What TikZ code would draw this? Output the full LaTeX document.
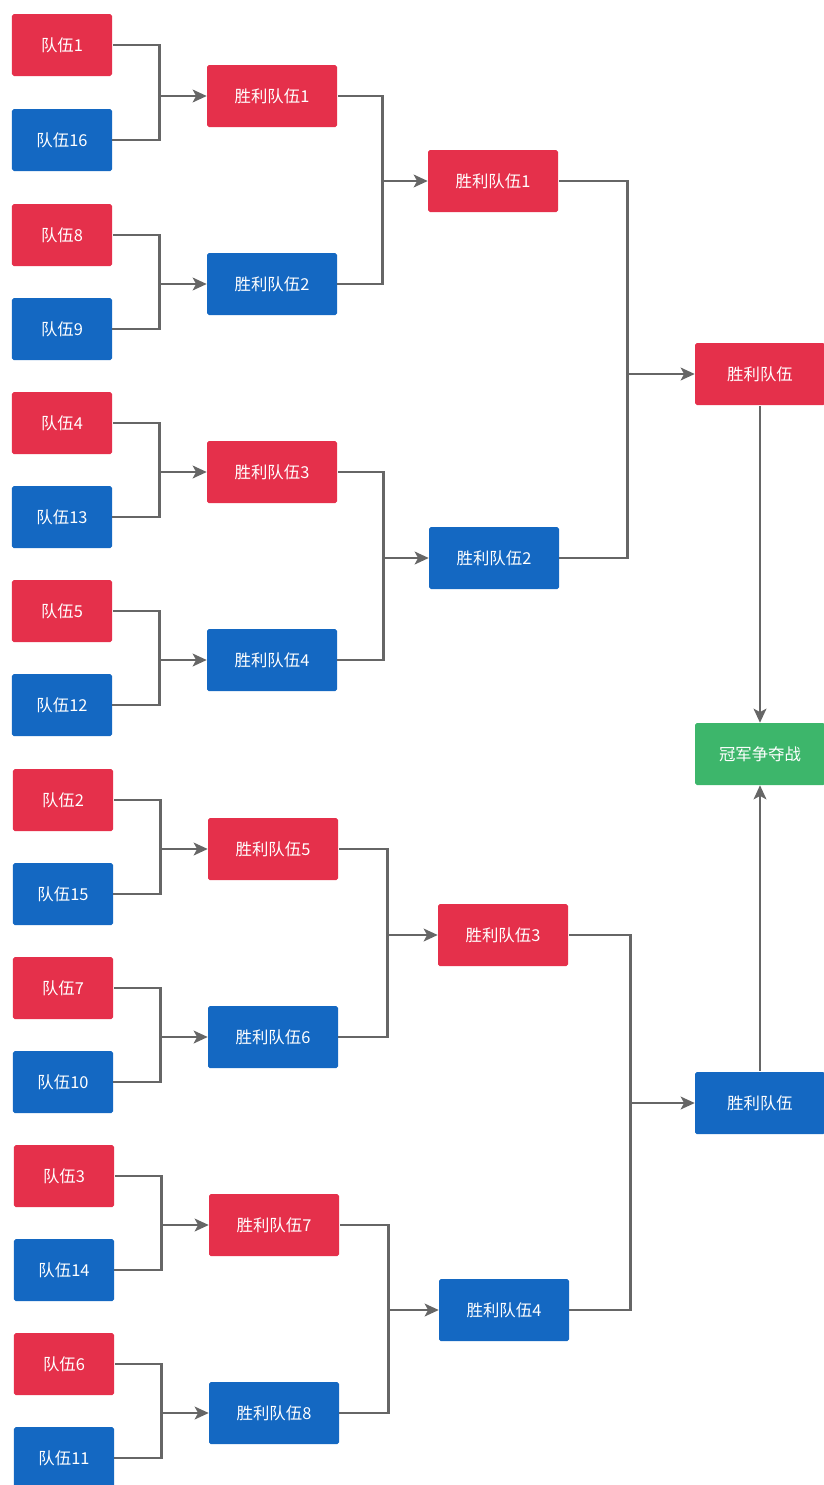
\documentclass[tikz,border=0pt]{standalone}
\usepackage{fontspec}
\setmainfont{Noto Sans CJK SC}
\usepackage{tikz}
\usetikzlibrary{arrows.meta,calc}

\definecolor{teamred}{HTML}{E5304B}
\definecolor{teamblue}{HTML}{1468C2}
\definecolor{finalgreen}{HTML}{3DB66B}
\definecolor{linkgray}{HTML}{666666}

% pair of boxes #1,#2 joined into box #3, junction #4 units left of #3
\newcommand{\joinpair}[4]{%
  \draw[link] (#1.east) -| ($(#3.west)+(-#4,0)$) coordinate (j) |- (#2.east);
  \draw[link,->] (j) -- (#3.west);}

\begin{document}
\begin{tikzpicture}[x=0.3mm,y=-0.3mm,>={Stealth[length=4.2mm,width=3.8mm,inset=1mm]},
                    link/.style={draw=linkgray,line width=2.5pt,shorten <=1pt},
                    box/.style={rectangle,rounded corners=1.5pt,text=white,
                      minimum height=18.6mm,inner sep=0pt,
                      font=\fontsize{14}{16}\selectfont},
                    team/.style={box,minimum width=30mm},
                    win/.style={box,minimum width=39mm},
                    red/.style={fill=teamred},
                    blue/.style={fill=teamblue}]
  \useasboundingbox (0,0) rectangle (824,1485);

  % first round
  \node[team,red]  (t1)  at (62,45)   {队伍1};
  \node[team,blue] (t16) at (62,140)  {队伍16};
  \node[team,red]  (t8)  at (62,235)  {队伍8};
  \node[team,blue] (t9)  at (62,329)  {队伍9};
  \node[team,red]  (t4)  at (62,423)  {队伍4};
  \node[team,blue] (t13) at (62,517)  {队伍13};
  \node[team,red]  (t5)  at (62,611)  {队伍5};
  \node[team,blue] (t12) at (62,705)  {队伍12};
  \node[team,red]  (t2)  at (63,800)  {队伍2};
  \node[team,blue] (t15) at (63,894)  {队伍15};
  \node[team,red]  (t7)  at (63,988)  {队伍7};
  \node[team,blue] (t10) at (63,1082) {队伍10};
  \node[team,red]  (t3)  at (64,1176) {队伍3};
  \node[team,blue] (t14) at (64,1270) {队伍14};
  \node[team,red]  (t6)  at (64,1364) {队伍6};
  \node[team,blue] (t11) at (64,1458) {队伍11};

  % second round
  \node[win,red]  (w1) at (272,96)   {胜利队伍1};
  \node[win,blue] (w2) at (272,284)  {胜利队伍2};
  \node[win,red]  (w3) at (272,472)  {胜利队伍3};
  \node[win,blue] (w4) at (272,660)  {胜利队伍4};
  \node[win,red]  (w5) at (273,849)  {胜利队伍5};
  \node[win,blue] (w6) at (273,1037) {胜利队伍6};
  \node[win,red]  (w7) at (274,1225) {胜利队伍7};
  \node[win,blue] (w8) at (274,1413) {胜利队伍8};

  % third round
  \node[win,red]  (q1) at (493,181)  {胜利队伍1};
  \node[win,blue] (q2) at (494,558)  {胜利队伍2};
  \node[win,red]  (q3) at (503,935)  {胜利队伍3};
  \node[win,blue] (q4) at (504,1310) {胜利队伍4};

  % semi finals and final
  \node[win,red]  (s1) at (760,374)  {胜利队伍};
  \node[win,blue] (s2) at (760,1103) {胜利队伍};
  \node[win,fill=finalgreen] (fin) at (760,754) {冠军争夺战};

  \joinpair{t1}{t16}{w1}{47}
  \joinpair{t8}{t9}{w2}{47}
  \joinpair{t4}{t13}{w3}{47}
  \joinpair{t5}{t12}{w4}{47}
  \joinpair{t2}{t15}{w5}{47}
  \joinpair{t7}{t10}{w6}{47}
  \joinpair{t3}{t14}{w7}{47}
  \joinpair{t6}{t11}{w8}{47}

  \joinpair{w1}{w2}{q1}{45}
  \joinpair{w3}{w4}{q2}{45}
  \joinpair{w5}{w6}{q3}{50}
  \joinpair{w7}{w8}{q4}{50}

  \joinpair{q1}{q2}{s1}{67}
  \joinpair{q3}{q4}{s2}{64}

  \draw[link,->] (s1.south) -- (fin.north);
  \draw[link,->] (s2.north) -- (fin.south);
\end{tikzpicture}
\end{document}
